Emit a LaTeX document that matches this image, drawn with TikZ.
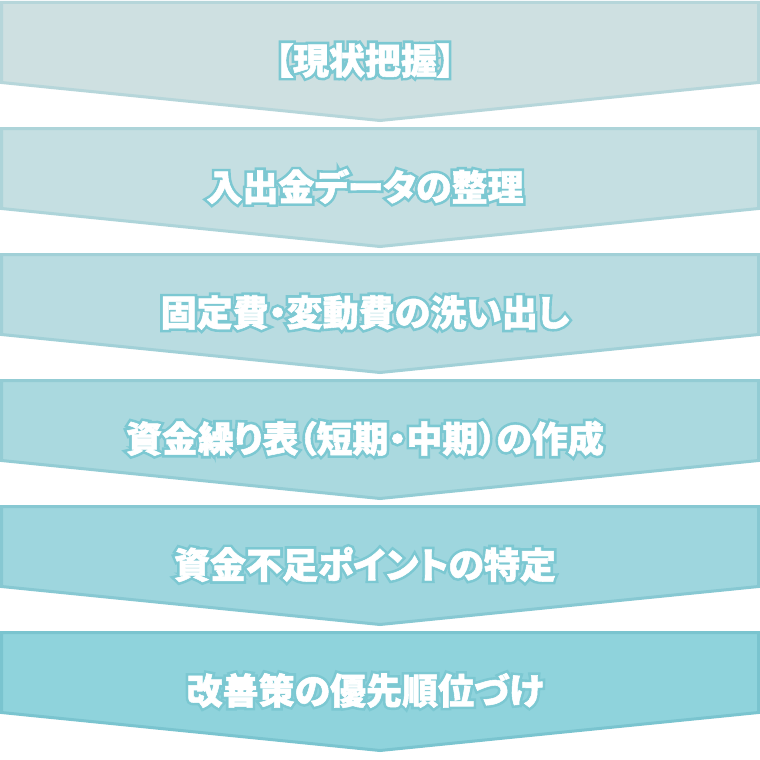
\documentclass[tikz,border=0pt]{standalone}
\usepackage{fontspec}
\newfontfamily\jp{Noto Sans CJK JP}[RawFeature=+palt, FakeBold=1.5]
\newfontfamily\jphalo{Noto Sans CJK JP}[RawFeature=+palt, FakeBold=16]
\definecolor{f0}{HTML}{CEE0E1}\definecolor{b0}{HTML}{B6D6DA}
\definecolor{f1}{HTML}{C5DFE2}\definecolor{b1}{HTML}{ADD4D9}
\definecolor{f2}{HTML}{B9DCE1}\definecolor{b2}{HTML}{A1D0D7}
\definecolor{f3}{HTML}{AAD9DF}\definecolor{b3}{HTML}{93CCD4}
\definecolor{f4}{HTML}{9ED6DE}\definecolor{b4}{HTML}{87C8D2}
\definecolor{f5}{HTML}{8FD3DC}\definecolor{b5}{HTML}{7AC4CF}
\definecolor{halo}{HTML}{7CC8D2}
\tikzset{
  chev/.style={line width=3pt, line join=miter},
  lbl/.style={font=\jp\bfseries\fontsize{36}{42}\selectfont, text=white, inner sep=0pt, anchor=center},
  halolbl/.style={font=\jphalo\bfseries\fontsize{36}{42}\selectfont, text=halo, inner sep=0pt, anchor=center},
}
\begin{document}
\begin{tikzpicture}[x=1pt,y=-1pt]
\useasboundingbox (0,0) rectangle (760,760);
\fill[white] (0,0) rectangle (760,760);
\foreach \i/\t in {0/{【現状把握】},1/{入出金データの整理},2/{固定費・変動費の洗い出し},3/{資金繰り表（短期・中期）の作成},4/{資金不足ポイントの特定},5/{改善策の優先順位づけ}}{
  \pgfmathsetmacro\tp{2.5+126*\i}
  \path[chev, fill=f\i, draw=b\i] (1.5,\tp) -- (758.5,\tp) -- (758.5,\tp+80) -- (380,\tp+118) -- (1.5,\tp+80) -- cycle;
  \node[halolbl] (h\i) at (365,\tp+58) {\t};
  \node[lbl] (s\i) at (h\i.center) {\t};
}
\end{tikzpicture}
\end{document}
